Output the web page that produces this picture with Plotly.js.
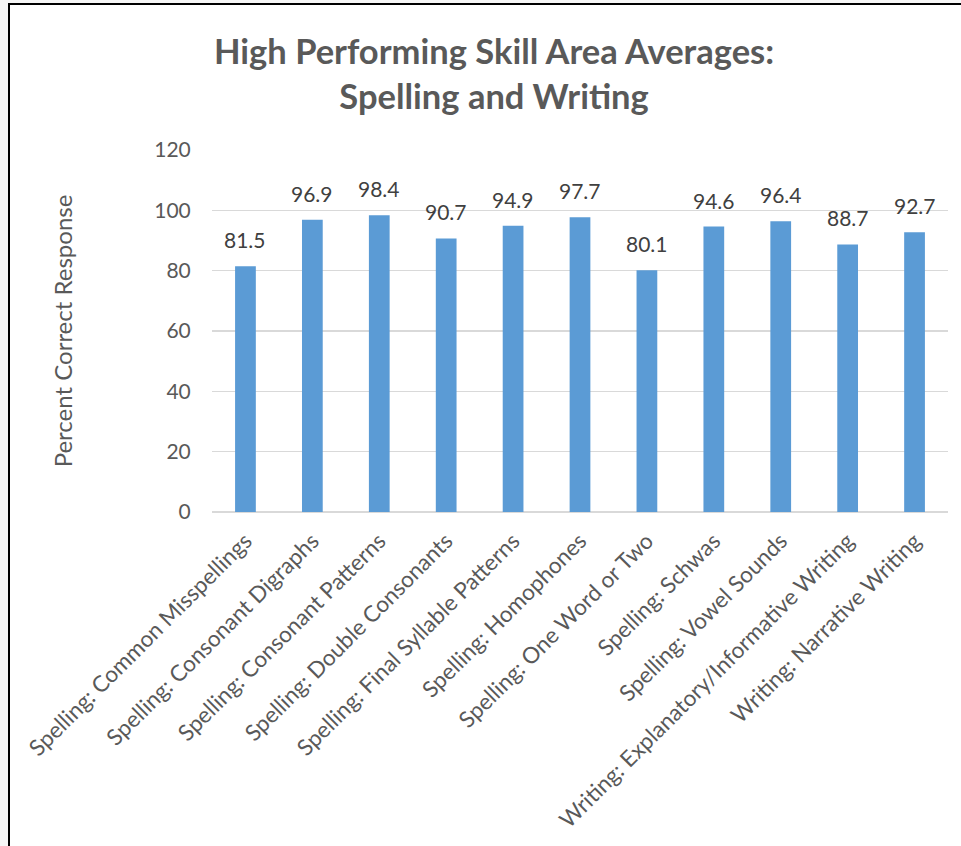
<!DOCTYPE html>
<html>
<head>
<meta charset="utf-8">
<script src="https://cdn.plot.ly/plotly-3.0.1.min.js"></script>
<style>
  html, body { margin: 0; padding: 0; background: #f6f6f6; }
  #wrap { position: absolute; left: 8px; top: 3px; width: 953px; height: 843px;
          border-left: 2px solid #000; border-top: 2px solid #000; background: #fff; }
  #chart { width: 951px; height: 841px; }
</style>
</head>
<body>
<div id="wrap"><div id="chart"></div></div>
<script>
const categories = [
  "Spelling: Common Misspellings",
  "Spelling: Consonant Digraphs",
  "Spelling: Consonant Patterns",
  "Spelling: Double Consonants",
  "Spelling: Final Syllable Patterns",
  "Spelling: Homophones",
  "Spelling: One Word or Two",
  "Spelling: Schwas",
  "Spelling: Vowel Sounds",
  "Writing: Explanatory/Informative Writing",
  "Writing: Narrative Writing"
];
const values = [81.5, 96.9, 98.4, 90.7, 94.9, 97.7, 80.1, 94.6, 96.4, 88.7, 92.7];
const yTicks = [0, 20, 40, 60, 80, 100, 120];

const FONT = "Lato, 'Open Sans', sans-serif";

const trace = {
  type: "bar",
  x: categories,
  y: values,
  marker: { color: "#5b9bd5" },
  hoverinfo: "x+y"
};

const labels = categories.map((c, i) => ({
  x: c, y: values[i], xref: "x", yref: "y",
  text: values[i].toFixed(1),
  showarrow: false, yanchor: "bottom", yshift: 12,
  font: { family: FONT, size: 21, color: "#404040" }
}));

const layout = {
  width: 951, height: 841,
  margin: { l: 201.5, r: 12.5, t: 145, b: 334 },
  paper_bgcolor: "#ffffff",
  plot_bgcolor: "#ffffff",
  showlegend: false,
  bargap: 0.69,
  title: {
    text: "<b>High Performing Skill Area Averages:<br>Spelling and Writing</b>",
    font: { family: FONT, size: 34.5, color: "#595959" },
    xref: "container", x: 0.509, xanchor: "center",
    yref: "container", y: 1 - 59 / 841, yanchor: "top"
  },
  xaxis: {
    type: "category",
    tickangle: -45,
    tickfont: { family: FONT, size: 22.5, color: "#595959" },
    showgrid: false,
    showline: false,
    zeroline: false,
    ticks: "outside", ticklen: 6, tickcolor: "rgba(0,0,0,0)"
  },
  yaxis: {
    range: [0, 120],
    tickvals: yTicks,
    ticktext: yTicks.map(String),
    tickfont: { family: FONT, size: 21, color: "#595959" },
    showgrid: true, gridcolor: "#d9d9d9", gridwidth: 1.3,
    zeroline: true, zerolinecolor: "#d9d9d9", zerolinewidth: 1.3,
    showline: false,
    ticks: "outside", ticklen: 16, tickcolor: "rgba(0,0,0,0)",
    title: {
      text: "Percent Correct Response",
      font: { family: FONT, size: 24, color: "#595959" },
      standoff: 74
    }
  },
  annotations: labels
};

Plotly.newPlot("chart", [trace], layout, { displayModeBar: false, staticPlot: true });
</script>
</body>
</html>
